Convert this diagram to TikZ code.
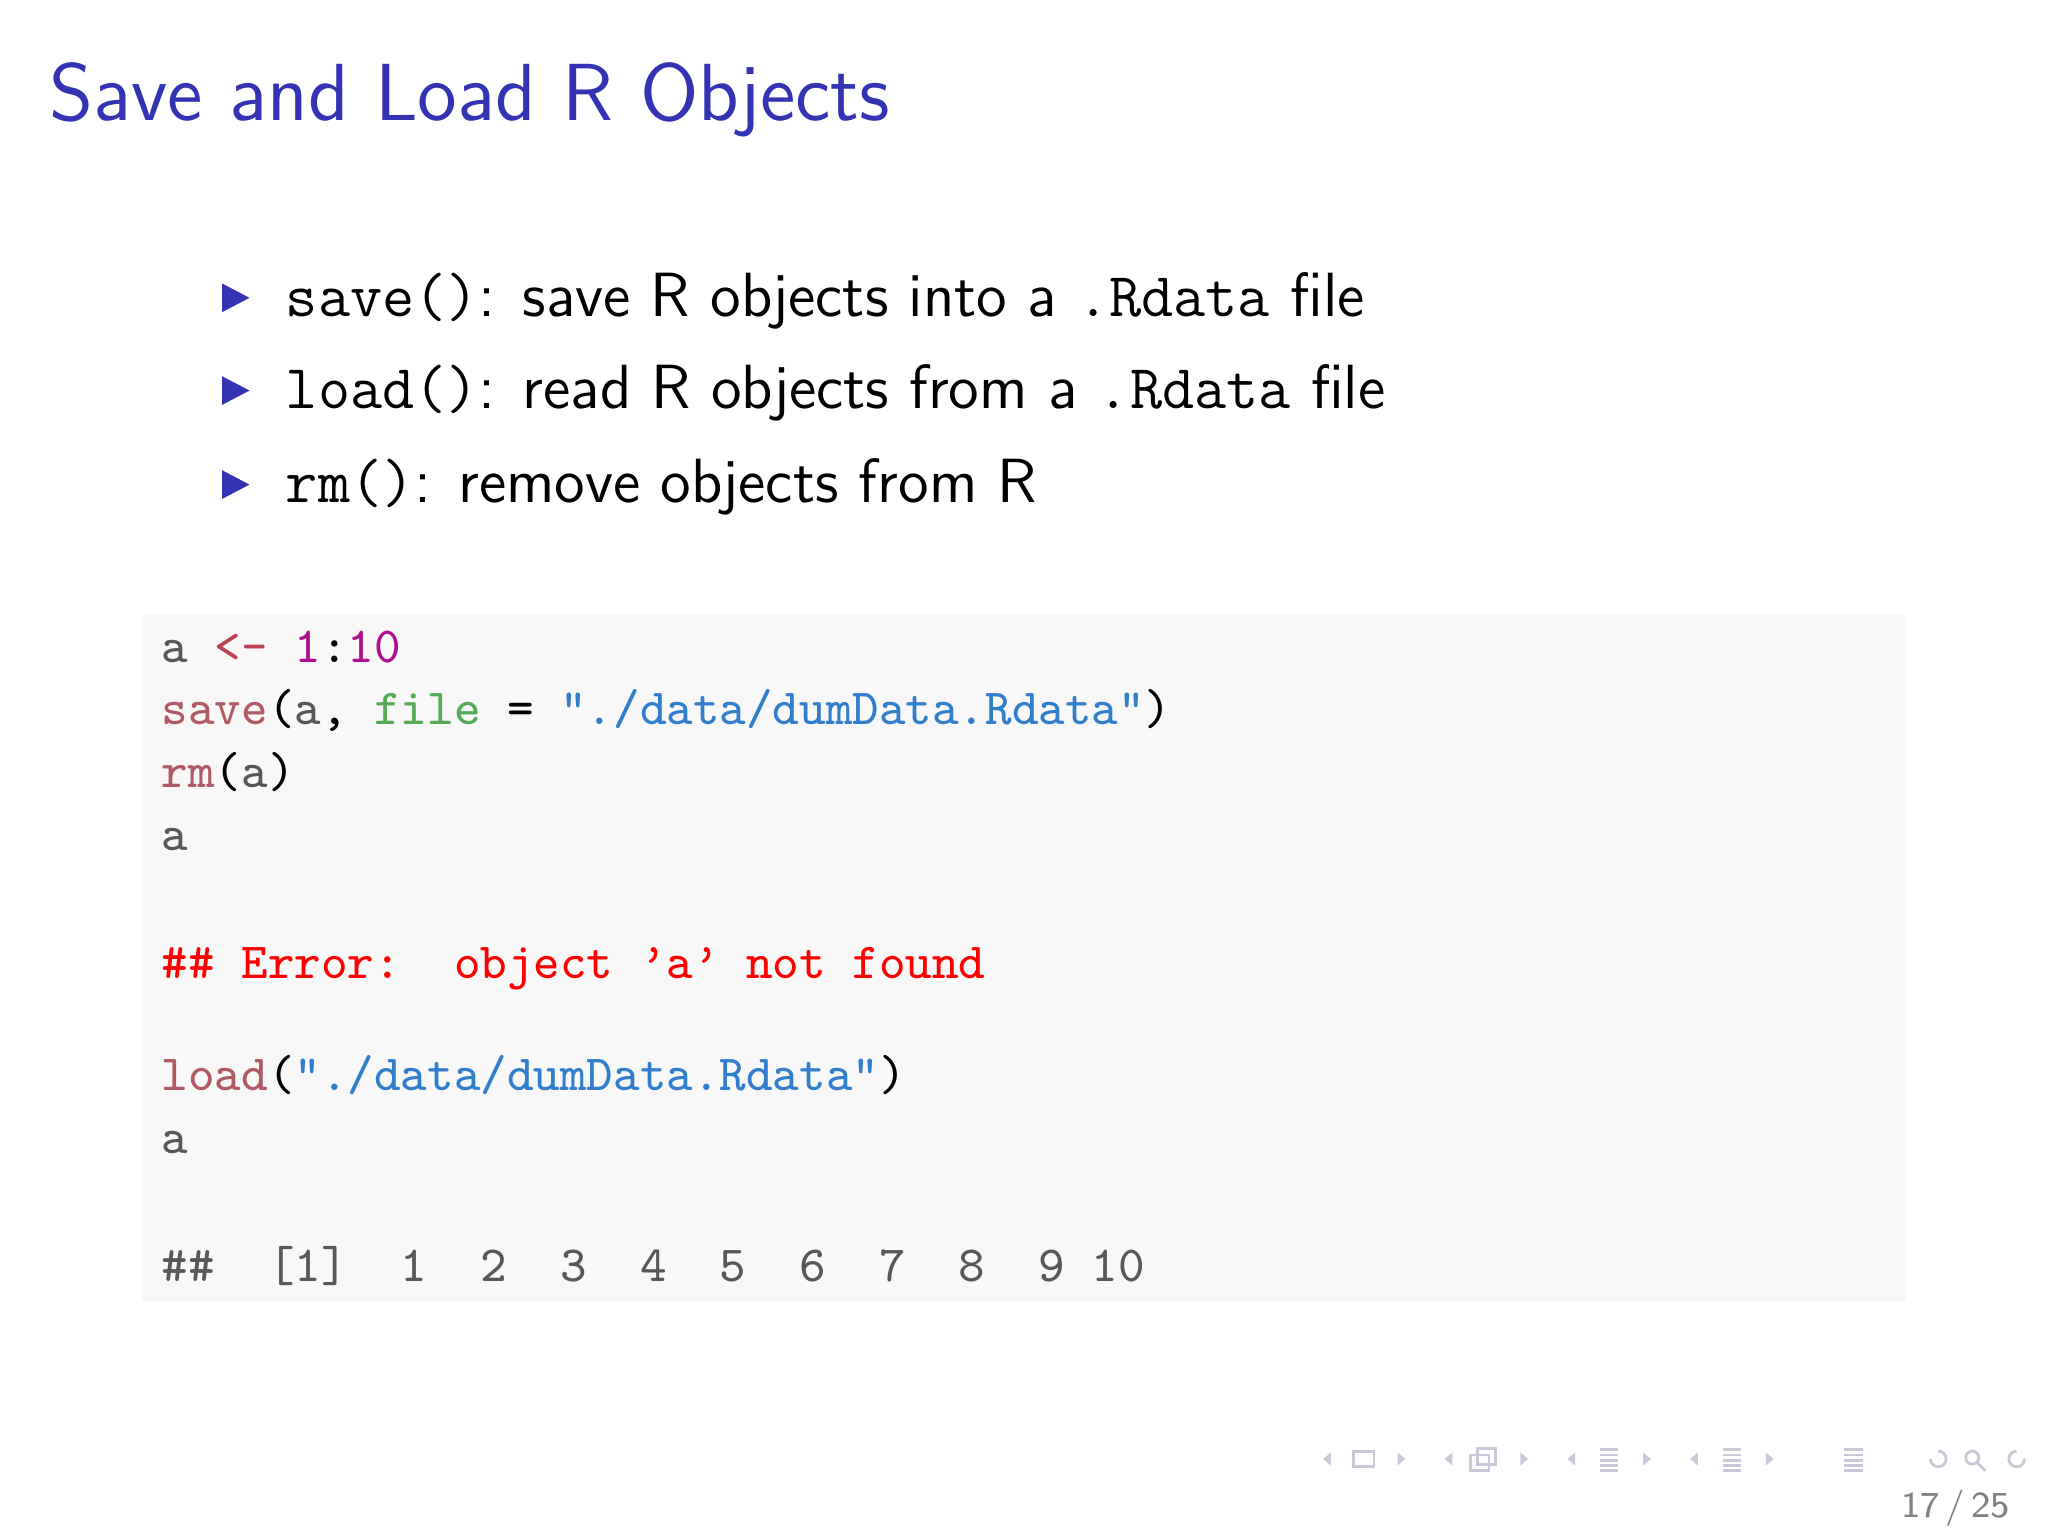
\documentclass[tikz,border=0pt]{standalone}
\usepackage{fontspec}
\begin{document}
\begin{tikzpicture}[x=0.0081633cm,y=-0.0081633cm,
  code/.style={anchor=base west,inner sep=0pt,font=\fontsize{9.0}{11}\ttfamily\obeyspaces},
  bul/.style={anchor=base west,inner sep=0pt,font=\fontsize{11.1}{13}\sffamily},
  tri/.style={fill=titleblue},
  nav/.style={draw=navgray,line width=0.5pt}]
\definecolor{titleblue}{RGB}{51,51,179}
\definecolor{codebg}{RGB}{248,248,248}
\definecolor{hlstd}{rgb}{0.345,0.345,0.345}
\definecolor{hlnum}{rgb}{0.686,0.059,0.569}
\definecolor{hlstr}{rgb}{0.192,0.494,0.8}
\definecolor{hlkwd}{rgb}{0.69,0.353,0.396}
\definecolor{hlkwc}{rgb}{0.333,0.667,0.333}
\definecolor{hlkwb}{rgb}{0.73,0.25,0.32}
\definecolor{navgray}{RGB}{200,200,215}
\useasboundingbox (0,0) rectangle (1568,1176);
\fill[white] (0,0) rectangle (1568,1176);
\node[anchor=base west,inner sep=0pt,text=titleblue,font=\fontsize{14.4}{18}\sffamily] (title) at (37,92) {Save and Load R Objects};
\foreach \yy in {228,299,371}{\fill[tri] (170,\yy-11) -- (191,\yy) -- (170,\yy+11) -- cycle;}
\node[bul] (b1) at (218,242) {\texttt{save()}: save R objects into a \texttt{.Rdata} file};
\node[bul] (b2) at (218,313) {\texttt{load()}: read R objects from a \texttt{.Rdata} file};
\node[bul] (b3) at (218,385) {\texttt{rm()}: remove objects from R};
\fill[codebg] (109,470) rectangle (1459,996);
\node[code] (c1) at (123,507) {\textcolor{hlstd}{a\ }\textcolor{hlkwb}{<-}\ \textcolor{hlnum}{1}:\textcolor{hlnum}{10}};
\node[code] (c2) at (123,555) {\textcolor{hlkwd}{save}(\textcolor{hlstd}{a},\ \textcolor{hlkwc}{file}\ =\ \textcolor{hlstr}{"./data/dumData.Rdata"})};
\node[code] (c3) at (123,603) {\textcolor{hlkwd}{rm}(\textcolor{hlstd}{a})};
\node[code] (c4) at (123,651) {\textcolor{hlstd}{a}};
\node[code,text=red] (c5) at (123,749) {\#\#\ Error:\ \ object\ ’a’\ not\ found};
\node[code] (c6) at (123,835) {\textcolor{hlkwd}{load}(\textcolor{hlstr}{"./data/dumData.Rdata"})};
\node[code] (c7) at (123,883) {\textcolor{hlstd}{a}};
\node[code,text=hlstd] (c8) at (123,981) {\#\#\ \ [1]\ \ 1\ \ 2\ \ 3\ \ 4\ \ 5\ \ 6\ \ 7\ \ 8\ \ 9\ 10};
% navigation symbols
\foreach \xx in {1015,1108,1202,1296}{\fill[navgray] (\xx+4,1112) -- (\xx-2,1117) -- (\xx+4,1122) -- cycle;}
\foreach \xx in {1073,1167,1261,1355}{\fill[navgray] (\xx-3,1112) -- (\xx+3,1117) -- (\xx-3,1122) -- cycle;}
\draw[nav] (1036,1111) rectangle (1052,1123);
\draw[nav] (1126,1114) rectangle (1140,1126); \draw[nav] (1131,1109) rectangle (1145,1121);
\foreach \xx in {1232,1326,1419}{\foreach \yy in {1110,1114,1118,1122,1126}{\draw[nav] (\xx-7,\yy) -- (\xx+7,\yy);}}
\draw[nav] (1478,1117) arc (180:-90:6);
\draw[nav] (1510,1116) circle (5); \draw[nav] (1514,1120) -- (1520,1126);
\draw[nav] (1550,1117) arc (0:270:6);
\node[anchor=base east,inner sep=0pt,text=gray,font=\fontsize{6.5}{8}\sffamily] (pg) at (1540,1162) {17\,/\,25};
\end{tikzpicture}
\end{document}
